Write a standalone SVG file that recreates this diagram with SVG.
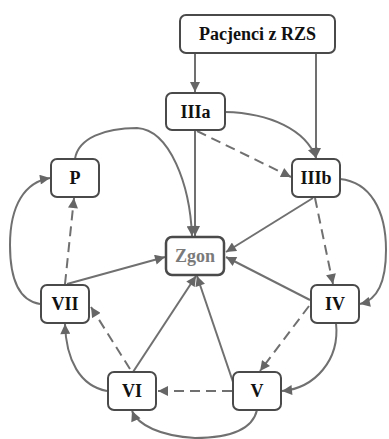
<svg xmlns="http://www.w3.org/2000/svg" width="389" height="439" viewBox="0 0 389 439">
<defs>
<style>
.box{fill:#fff;stroke:#4a4a4a;stroke-width:2}
.t{font-family:"Liberation Serif",serif;font-weight:bold;font-size:18px;fill:#111;text-anchor:middle}
.c{fill:none;stroke:#707070;stroke-width:2}
.d{stroke-dasharray:10,6}
</style>
<marker id="a" viewBox="0 0 10 10" refX="10" refY="5" markerWidth="11" markerHeight="10" markerUnits="userSpaceOnUse" orient="auto">
<path d="M0,0 L10,5 L0,10 z" fill="#666"/>
</marker>
</defs>
<rect width="389" height="439" fill="#fff"/>
<g id="connectors">
<path class="c" d="M195,53 V92" marker-end="url(#a)"/>
<path class="c" d="M316,53 V158" marker-end="url(#a)"/>
<path class="c" d="M225,112 C270,113 306,130 316,158" marker-end="url(#a)"/>
<path class="c d" d="M197,131 L291,177" marker-end="url(#a)"/>
<path class="c" d="M195,130 V236" marker-end="url(#a)"/>
<path class="c" d="M75,159 C78,138 105,128 137,128 C170,130 190,185 192,236" marker-end="url(#a)"/>
<path class="c" d="M313,198 L226,252" marker-end="url(#a)"/>
<path class="c d" d="M315,198 L333,284" marker-end="url(#a)"/>
<path class="c" d="M340,179 C370,182 386,210 386,250 C386,280 378,300 360,304" marker-end="url(#a)"/>
<path class="c" d="M310,300 L226,257" marker-end="url(#a)"/>
<path class="c d" d="M309,306 L260,371" marker-end="url(#a)"/>
<path class="c" d="M336,323 C340,360 315,388 282,391" marker-end="url(#a)"/>
<path class="c" d="M233,382 L197,276" marker-end="url(#a)"/>
<path class="c d" d="M232,391 L158,391" marker-end="url(#a)"/>
<path class="c" d="M257,410 C252,432 225,438 195,438 C160,436 138,425 132,411" marker-end="url(#a)"/>
<path class="c" d="M133,372 L196,276" marker-end="url(#a)"/>
<path class="c d" d="M130,369 L91,307" marker-end="url(#a)"/>
<path class="c" d="M107,391 C80,386 66,360 65,324" marker-end="url(#a)"/>
<path class="c" d="M67,284 L165,257" marker-end="url(#a)"/>
<path class="c d" d="M65,284 L74,198" marker-end="url(#a)"/>
<path class="c" d="M40,304 C15,300 10,270 10,245 C10,205 25,182 50,178" marker-end="url(#a)"/>
</g>
<g id="pacjenci"><rect class="box" x="180" y="15" width="155" height="38" rx="6"/><text class="t" x="257.5" y="40">Pacjenci z RZS</text></g>
<g id="IIIa"><rect class="box" x="166" y="93" width="59" height="37" rx="6"/><text class="t" x="195.5" y="118">IIIa</text></g>
<g id="P"><rect class="box" x="51" y="159" width="48" height="38" rx="6"/><text class="t" x="75" y="184">P</text></g>
<g id="IIIb"><rect class="box" x="292" y="159" width="48" height="38" rx="6"/><text class="t" x="316" y="184">IIIb</text></g>
<g id="Zgon"><rect class="box" x="166" y="237" width="58" height="38" rx="6" style="stroke-width:2.5"/><text class="t" x="195" y="262" style="fill:#7a7a7a">Zgon</text></g>
<g id="VII"><rect class="box" x="41" y="285" width="48" height="38" rx="6"/><text class="t" x="65" y="310">VII</text></g>
<g id="IV"><rect class="box" x="311" y="285" width="48" height="38" rx="6"/><text class="t" x="335" y="310">IV</text></g>
<g id="VI"><rect class="box" x="108" y="372" width="48" height="38" rx="6"/><text class="t" x="132" y="397">VI</text></g>
<g id="V"><rect class="box" x="233" y="372" width="48" height="38" rx="6"/><text class="t" x="257" y="397">V</text></g>
</svg>
